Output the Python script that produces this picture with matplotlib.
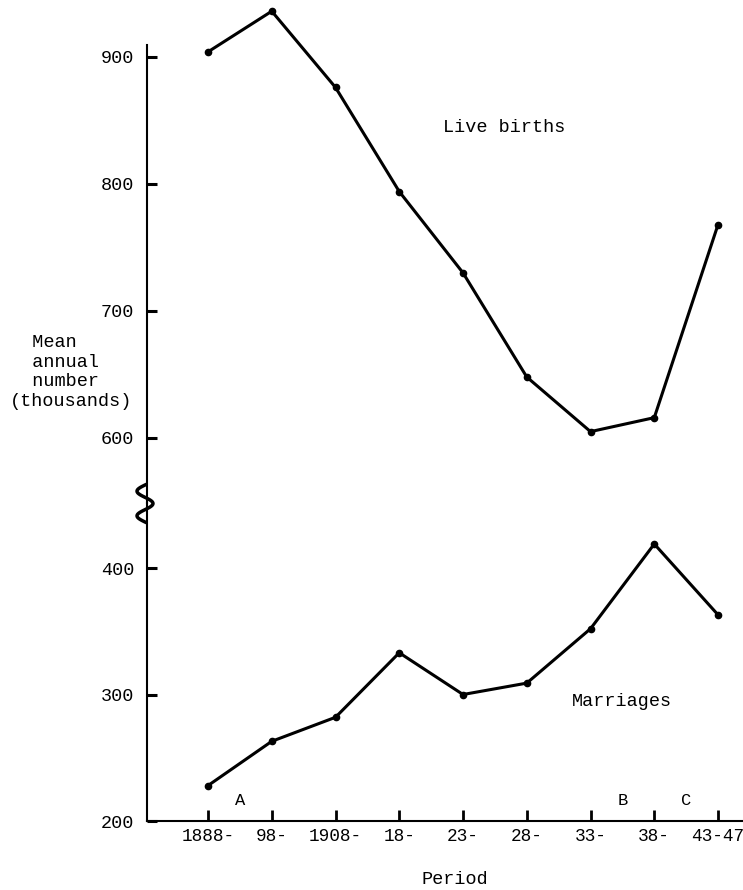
import numpy as np
import matplotlib
matplotlib.use('Agg')
import matplotlib.pyplot as plt
from matplotlib.lines import Line2D

# ---- data ----
periods = ['1888-', '98-', '1908-', '18-', '23-', '28-', '33-', '38-', '43-47']
live_births = [904, 936, 876, 794, 730, 648, 605, 616, 768]
marriages = [228, 263, 282, 333, 300, 309, 352, 419, 363]
upper_ticks = [600, 700, 800, 900]
lower_ticks = [200, 300, 400]
interval_labels = ['A', 'B', 'C']
interval_pos = [0.5, 6.5, 7.5]

FONT = ['Liberation Mono', 'DejaVu Sans Mono']
plt.rcParams['font.family'] = FONT
FS = 13.3

W, H = 743, 890
fig = plt.figure(figsize=(W / 100, H / 100), dpi=100)


def fx(px):
    return px / W


def fy(py):
    return 1 - py / H


left, right = 147, 742
y_axis_bottom, y_break, y_top = 821, 503, 5
ax_low = fig.add_axes([fx(left), fy(y_axis_bottom), (right - left) / W,
                       (y_axis_bottom - y_break) / H])
ax_up = fig.add_axes([fx(left), fy(y_break), (right - left) / W,
                      (y_break - y_top) / H], sharex=ax_low)
for a in (ax_low, ax_up):
    a.patch.set_alpha(0)

x = np.arange(len(periods))
lw = 2.2
ax_up.plot(x, live_births, color='black', lw=lw, marker='o', ms=4.5,
           mfc='black', mec='black', clip_on=False)
ax_low.plot(x, marriages, color='black', lw=lw, marker='o', ms=4.5,
            mfc='black', mec='black', clip_on=False)

# limits
ax_low.set_xlim(-0.957, 8.376)
ax_low.set_ylim(200, 451.4)
ax_up.set_ylim(548.8, 940.9)

# spines
for s in ('top', 'right'):
    ax_low.spines[s].set_visible(False)
for s in ('top', 'right', 'bottom'):
    ax_up.spines[s].set_visible(False)
ax_up.spines['left'].set_bounds(548.8, 909.4)
for a in (ax_low, ax_up):
    for s in a.spines.values():
        s.set_linewidth(1.5)

# ticks
ax_low.set_xticks(x)
ax_low.set_xticklabels(periods, fontsize=FS - 0.5)
ax_low.tick_params(axis='x', direction='in', length=8, width=2, pad=5)
ax_up.tick_params(axis='x', bottom=False, labelbottom=False)
ax_low.set_yticks(lower_ticks)
ax_up.set_yticks(upper_ticks)
for a in (ax_low, ax_up):
    a.tick_params(axis='y', direction='in', length=7, width=2.2, pad=9,
                  labelsize=FS)

# interval letters
for lab, pos in zip(interval_labels, interval_pos):
    ax_low.text(pos, 216, lab, ha='center', va='center', fontsize=FS - 1)

# series labels
fig.text(fx(504), fy(127), 'Live births', ha='center', va='center', fontsize=FS)
fig.text(fx(622), fy(702), 'Marriages', ha='center', va='center', fontsize=FS)

# y label (typed, left aligned block)
fig.text(fx(10), fy(372), '  Mean\n  annual\n  number\n(thousands)',
         ha='left', va='center', fontsize=FS, linespacing=1.2)

# x label
fig.text(fx(455), fy(880), 'Period', ha='center', va='center', fontsize=FS)

# axis break squiggle
t = np.linspace(0, 1, 60)
sx = 145 - 8 * np.sin(2 * np.pi * 1.5 * t)
sy = 522 - 37 * t
fig.add_artist(Line2D(fx(sx), fy(sy), color='black', lw=2.5,
                      transform=fig.transFigure))

fig.savefig('out.png', dpi=100)
